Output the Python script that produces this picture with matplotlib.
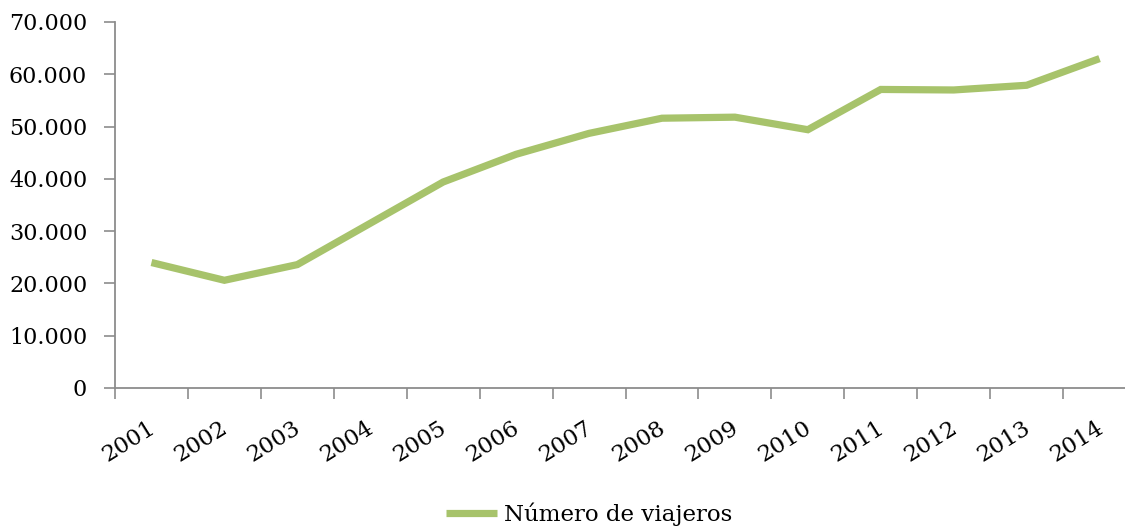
import matplotlib
matplotlib.use("Agg")
import matplotlib.pyplot as plt
from matplotlib.ticker import FuncFormatter
from matplotlib.transforms import ScaledTranslation

years = ["2001", "2002", "2003", "2004", "2005", "2006", "2007",
         "2008", "2009", "2010", "2011", "2012", "2013", "2014"]
viajeros = [24000, 20600, 23600, 31500, 39400, 44700, 48700,
            51600, 51800, 49400, 57100, 57000, 57900, 63000]
series_name = "Número de viajeros"
y_ticks = [0, 10000, 20000, 30000, 40000, 50000, 60000, 70000]

plt.rcParams["font.family"] = ["DejaVu Serif"]
FS = 16.5
FSY = 16.0
AXC = "#8c8c8c"
LINEC = "#a7c36b"

fig = plt.figure(figsize=(11.25, 5.27), dpi=100)
ax = fig.add_axes([115 / 1125, 1 - 388 / 527, (1136 - 115) / 1125, (388 - 22) / 527])

x = list(range(len(years)))
ax.plot(x, viajeros, color=LINEC, lw=5.2, solid_joinstyle="miter",
        solid_capstyle="butt", label=series_name)

ax.set_xlim(-0.5, len(years) - 0.5)
ax.set_ylim(0, 70000)
ax.set_yticks(y_ticks)
ax.yaxis.set_major_formatter(FuncFormatter(lambda v, p: f"{int(v):,}".replace(",", ".")))

ax.set_xticks([i - 0.5 for i in range(len(years) + 1)], minor=False)
ax.set_xticklabels([""] * (len(years) + 1))
ax.set_xticks(x, minor=True)
ax.set_xticklabels(years, minor=True, rotation=32, ha="center", va="top",
                   fontsize=FS)
ax.tick_params(axis="x", which="minor", length=0, pad=10)
ax.tick_params(axis="x", which="major", length=8, width=1.2, color=AXC, direction="out")
ax.tick_params(axis="y", length=8, width=1.2, color=AXC, direction="out",
               labelsize=FSY, pad=12)

shift = ScaledTranslation(-23 / 100, -15 / 100, fig.dpi_scale_trans)
for lab in ax.get_xticklabels(minor=True):
    lab.set_transform(lab.get_transform() + shift)

for s in ["top", "right"]:
    ax.spines[s].set_visible(False)
for s in ["left", "bottom"]:
    ax.spines[s].set_color(AXC)
    ax.spines[s].set_linewidth(1.3)

leg = fig.legend(loc="center", bbox_to_anchor=(589 / 1125, 1 - 514 / 527),
                 frameon=False, fontsize=FS, handlelength=2.2, handletextpad=0.3,
                 borderpad=0, borderaxespad=0)

fig.savefig("out.png", dpi=100)
